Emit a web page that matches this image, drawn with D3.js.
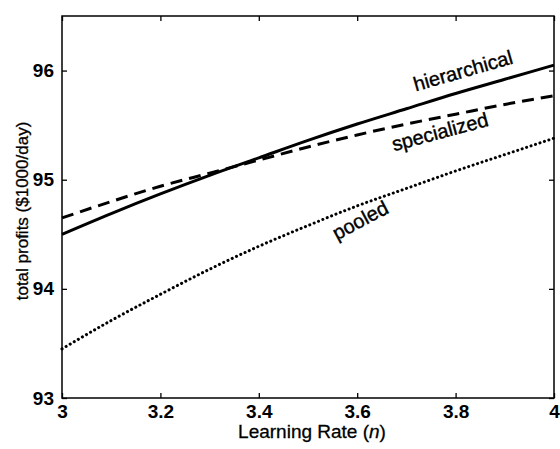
<!DOCTYPE html>
<html>
<head>
<meta charset="utf-8">
<script src="https://cdn.jsdelivr.net/npm/d3@7"></script>
<style>
  body { margin: 0; background: #fff; }
  text { font-family: Arial, "Liberation Sans", sans-serif; fill: #000; }
</style>
</head>
<body>
<div id="chart"></div>
<script>
// donnees
const rates = [3.0, 3.1, 3.2, 3.3, 3.4, 3.5, 3.6, 3.7, 3.8, 3.9, 4.0];
const hierarchical = [94.50, 94.69, 94.87, 95.04, 95.20, 95.36, 95.51, 95.65, 95.79, 95.92, 96.05];
const specialized = [94.65, 94.80, 94.94, 95.06, 95.18, 95.30, 95.41, 95.51, 95.60, 95.69, 95.77];
const pooled = [93.45, 93.71, 93.95, 94.18, 94.39, 94.58, 94.76, 94.92, 95.08, 95.23, 95.38];
const xTicks = [3, 3.2, 3.4, 3.6, 3.8, 4];
const yTicks = [93, 94, 95, 96];

const width = 560, height = 449;
const margin = { top: 16, right: 6, bottom: 51, left: 62 };
const w = width - margin.left - margin.right,
    h = height - margin.top - margin.bottom;

const svg = d3.select("#chart").append("svg")
    .attr("width", width)
    .attr("height", height);

const g = svg.append("g")
    .attr("transform", "translate(" + margin.left + "," + margin.top + ")");

const x = d3.scaleLinear().domain([3, 4]).range([0, w]);
const y = d3.scaleLinear().domain([93, 96.5]).range([h, 0]);

// axes facon matlab, ticks vers l'interieur sur les 4 cotes
const fmt = d => d3.format("")(d);
g.append("g")
    .attr("transform", "translate(0," + h + ")")
    .call(d3.axisBottom(x).tickValues(xTicks).tickSize(-5).tickPadding(7).tickFormat(fmt))
    .call(a => a.select(".domain").remove());
g.append("g")
    .call(d3.axisTop(x).tickValues(xTicks).tickSize(-5).tickFormat(""))
    .call(a => a.select(".domain").remove());
g.append("g")
    .call(d3.axisLeft(y).tickValues(yTicks).tickSize(-5).tickPadding(8).tickFormat(fmt))
    .call(a => a.select(".domain").remove());
g.append("g")
    .attr("transform", "translate(" + w + ",0)")
    .call(d3.axisRight(y).tickValues(yTicks).tickSize(-5).tickFormat(""))
    .call(a => a.select(".domain").remove());

g.selectAll(".tick line").attr("stroke", "#000").attr("stroke-width", 1.3);
g.selectAll(".tick text")
    .style("font-size", "19px")
    .style("font-weight", "bold");

g.append("rect")
    .attr("width", w)
    .attr("height", h)
    .attr("fill", "none")
    .attr("stroke", "#000")
    .attr("stroke-width", 1.5);

// courbes
const line = d3.line()
    .x((d, i) => x(rates[i]))
    .y(d => y(d))
    .curve(d3.curveMonotoneX);

g.append("path").datum(hierarchical)
    .attr("d", line)
    .attr("fill", "none")
    .attr("stroke", "#000")
    .attr("stroke-width", 3);

g.append("path").datum(specialized)
    .attr("d", line)
    .attr("fill", "none")
    .attr("stroke", "#000")
    .attr("stroke-width", 3)
    .attr("stroke-dasharray", "12,7");

g.append("path").datum(pooled)
    .attr("d", line)
    .attr("fill", "none")
    .attr("stroke", "#000")
    .attr("stroke-width", 3)
    .attr("stroke-linecap", "round")
    .attr("stroke-dasharray", "0.1,4.6");

// etiquettes des courbes
const labels = [
    { text: "hierarchical", v: 3.815, val: 96.0, angle: -16 },
    { text: "specialized", v: 3.768, val: 95.44, angle: -15 },
    { text: "pooled", v: 3.606, val: 94.63, angle: -28 }
];
g.selectAll(".lbl")
    .data(labels)
    .join("text")
    .attr("class", "lbl")
    .attr("transform", d => "translate(" + x(d.v) + "," + y(d.val) + ") rotate(" + d.angle + ")")
    .attr("text-anchor", "middle")
    .attr("dy", "0.35em")
    .style("font-size", "20px")
    .style("stroke", "#000")
    .style("stroke-width", 0.4)
    .text(d => d.text);

// titres des axes
svg.append("text")
    .attr("transform", "translate(28," + (margin.top + h / 2 + 4) + ") rotate(-90)")
    .attr("text-anchor", "middle")
    .style("font-size", "17px")
    .style("stroke", "#000")
    .style("stroke-width", 0.3)
    .text("total profits ($1000/day)");

const xl = svg.append("text")
    .attr("x", margin.left + w / 2 + 4)
    .attr("y", 438)
    .attr("text-anchor", "middle")
    .style("font-size", "19px")
    .style("stroke", "#000")
    .style("stroke-width", 0.3);
xl.append("tspan").text("Learning Rate (");
xl.append("tspan").style("font-style", "italic").text("n");
xl.append("tspan").text(")");
</script>
</body>
</html>
